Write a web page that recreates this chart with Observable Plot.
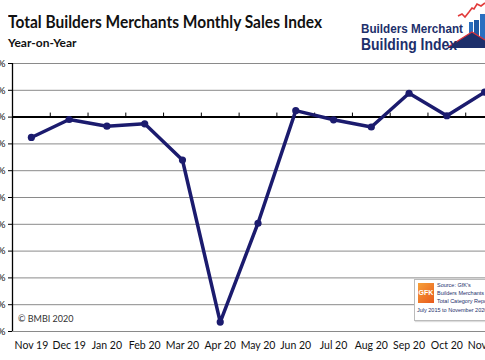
<!DOCTYPE html>
<html>
<head>
<meta charset="utf-8">
<script src="https://cdn.jsdelivr.net/npm/d3@7"></script>
<script src="https://cdn.jsdelivr.net/npm/@observablehq/plot@0.6"></script>
<style>
  html, body { margin: 0; padding: 0; background: #fff; width: 485px; height: 360px; overflow: hidden; }
  #wrap { position: relative; width: 485px; height: 360px; overflow: hidden; font-family: Lato, "Open Sans", sans-serif; }
  #header { position: absolute; left: 0; top: 0; width: 485px; height: 55px; }
  #title { position: absolute; left: 8px; top: 12px; font-size: 16.5px; font-weight: 700; color: #111; white-space: nowrap; transform-origin: left top; }
  #subtitle { position: absolute; left: 8px; top: 35px; font-size: 12px; font-weight: 700; color: #111; white-space: nowrap; }
  #chart { position: absolute; left: 0; top: 55px; }
  #copy { position: absolute; left: 18px; top: 313px; font-size: 9px; color: #333; }
  .logo { position: absolute; font-weight: 700; color: #1d2f6b; white-space: nowrap; font-family: "Liberation Sans", Arial, sans-serif; transform-origin: left top; }
  #logoText1 { left: 361px; top: 22px; font-size: 12.5px; }
  #logoText2 { left: 361px; top: 35px; font-size: 16.5px; }
  #logoArt { position: absolute; left: 440px; top: 0; }
  #source { position: absolute; left: 414px; top: 279px; width: 80px; height: 40px; background: #fff; border: 1px solid #bbb; box-shadow: 1px 1px 1px #ddd; }
  #gfk { position: absolute; left: 3px; top: 3px; width: 16px; height: 20px; background: linear-gradient(135deg, #f7a13a, #e8591c); color: #fff; font-size: 7px; font-weight: 700; text-align: center; line-height: 20px; font-family: "Liberation Sans", Arial, sans-serif; }
  .src { position: absolute; font-size: 5.5px; color: #1d2f6b; white-space: nowrap; font-family: "Liberation Sans Narrow", "Liberation Sans", Arial, sans-serif; }
</style>
</head>
<body>
<div id="wrap">
  <div id="header">
    <svg id="logoArt" width="45" height="55" viewBox="0 0 45 55">
      <rect x="29" y="22" width="4" height="26" fill="#2a6fc0"/>
      <rect x="34" y="20" width="5" height="28" fill="#1f5aa6"/>
      <rect x="40" y="14" width="5" height="34" fill="#2a6fc0"/>
      <polyline points="18,16 22,14 25,17 29,12 32,8 34,9 37,4 41,6 45,3" fill="none" stroke="#e23a3a" stroke-width="1.6"/>
      <polygon points="8,47 32,32 45,40 45,48 8,48" fill="#1d2f6b"/>
      <polyline points="8,47 32,32 45,40" fill="none" stroke="#d9303a" stroke-width="1.2"/>
    </svg>
    <div id="title">Total Builders Merchants Monthly Sales Index</div>
    <div id="subtitle">Year-on-Year</div>
    <div id="logoText1" class="logo">Builders Merchant</div>
    <div id="logoText2" class="logo">Building Index</div>
  </div>
  <div id="chart"></div>
  <div id="copy">© BMBI 2020</div>
  <div id="source">
    <div id="gfk">GFK</div>
    <div class="src" style="left:22px;top:2px">Source: GfK's</div>
    <div class="src" style="left:22px;top:10px">Builders Merchants</div>
    <div class="src" style="left:22px;top:18px">Total Category Report</div>
    <div class="src" style="left:2px;top:27px">July 2015 to November 2020</div>
  </div>
</div>
<script>
const months = ["Nov 19", "Dec 19", "Jan 20", "Feb 20", "Mar 20", "Apr 20", "May 20", "Jun 20", "Jul 20", "Aug 20", "Sep 20", "Oct 20", "Nov 20"];
const values = [-7.6, -0.9, -3.4, -2.5, -16.0, -76.5, -39.6, 2.4, -1.0, -3.7, 8.9, 0.5, 9.3];
const yTicks = [20, 10, 0, -10, -20, -30, -40, -50, -60, -70, -80];

const data = months.map((m, i) => ({i, month: m, value: values[i]}));
const navy = "#1b1b6e";

const chart = Plot.plot({
  width: 517,
  height: 305,
  marginTop: 8,
  marginBottom: 29,
  marginLeft: 12,
  marginRight: 14,
  style: {maxWidth: "none", fontFamily: "Lato, 'Open Sans', sans-serif", fontSize: "10px", color: "#111", overflow: "hidden"},
  x: {type: "linear", domain: [-0.5, 12.5], axis: null},
  y: {domain: [-80, 20], axis: null},
  marks: [
    Plot.ruleY(yTicks.filter(d => d !== 0), {stroke: "#8a8a8a", strokeWidth: 1}),
    Plot.ruleX([-0.5], {y1: -80, y2: 20, stroke: "#000", strokeWidth: 1.3}),
    Plot.axisY({ticks: yTicks, tickSize: 4, tickPadding: 3, tickFormat: d => d + "%", stroke: "#000", fontSize: 10, label: null}),
    Plot.ruleY([0], {stroke: "#000", strokeWidth: 2}),
    Plot.ruleX(d3.range(0.5, 12, 1), {y1: 0, y2: 1.5, stroke: "#000", strokeWidth: 1}),
    Plot.axisX({ticks: d3.range(13), tickFormat: i => months[i], tickSize: 0, tickPadding: 10, anchor: "bottom", fontSize: 10.5, label: null}),
    Plot.line(data, {x: "i", y: "value", stroke: navy, strokeWidth: 3.5, strokeLinejoin: "round"}),
    Plot.dot(data, {x: "i", y: "value", r: 3.6, fill: navy, stroke: "none"})
  ]
});
document.getElementById("chart").appendChild(chart);

function fitWidth(id, target) {
  const el = document.getElementById(id);
  const w = el.getBoundingClientRect().width;
  if (w > 0) el.style.transform = `scaleX(${target / w})`;
}
fitWidth("title", 314);
fitWidth("logoText1", 102);
fitWidth("logoText2", 96);
</script>
</body>
</html>
